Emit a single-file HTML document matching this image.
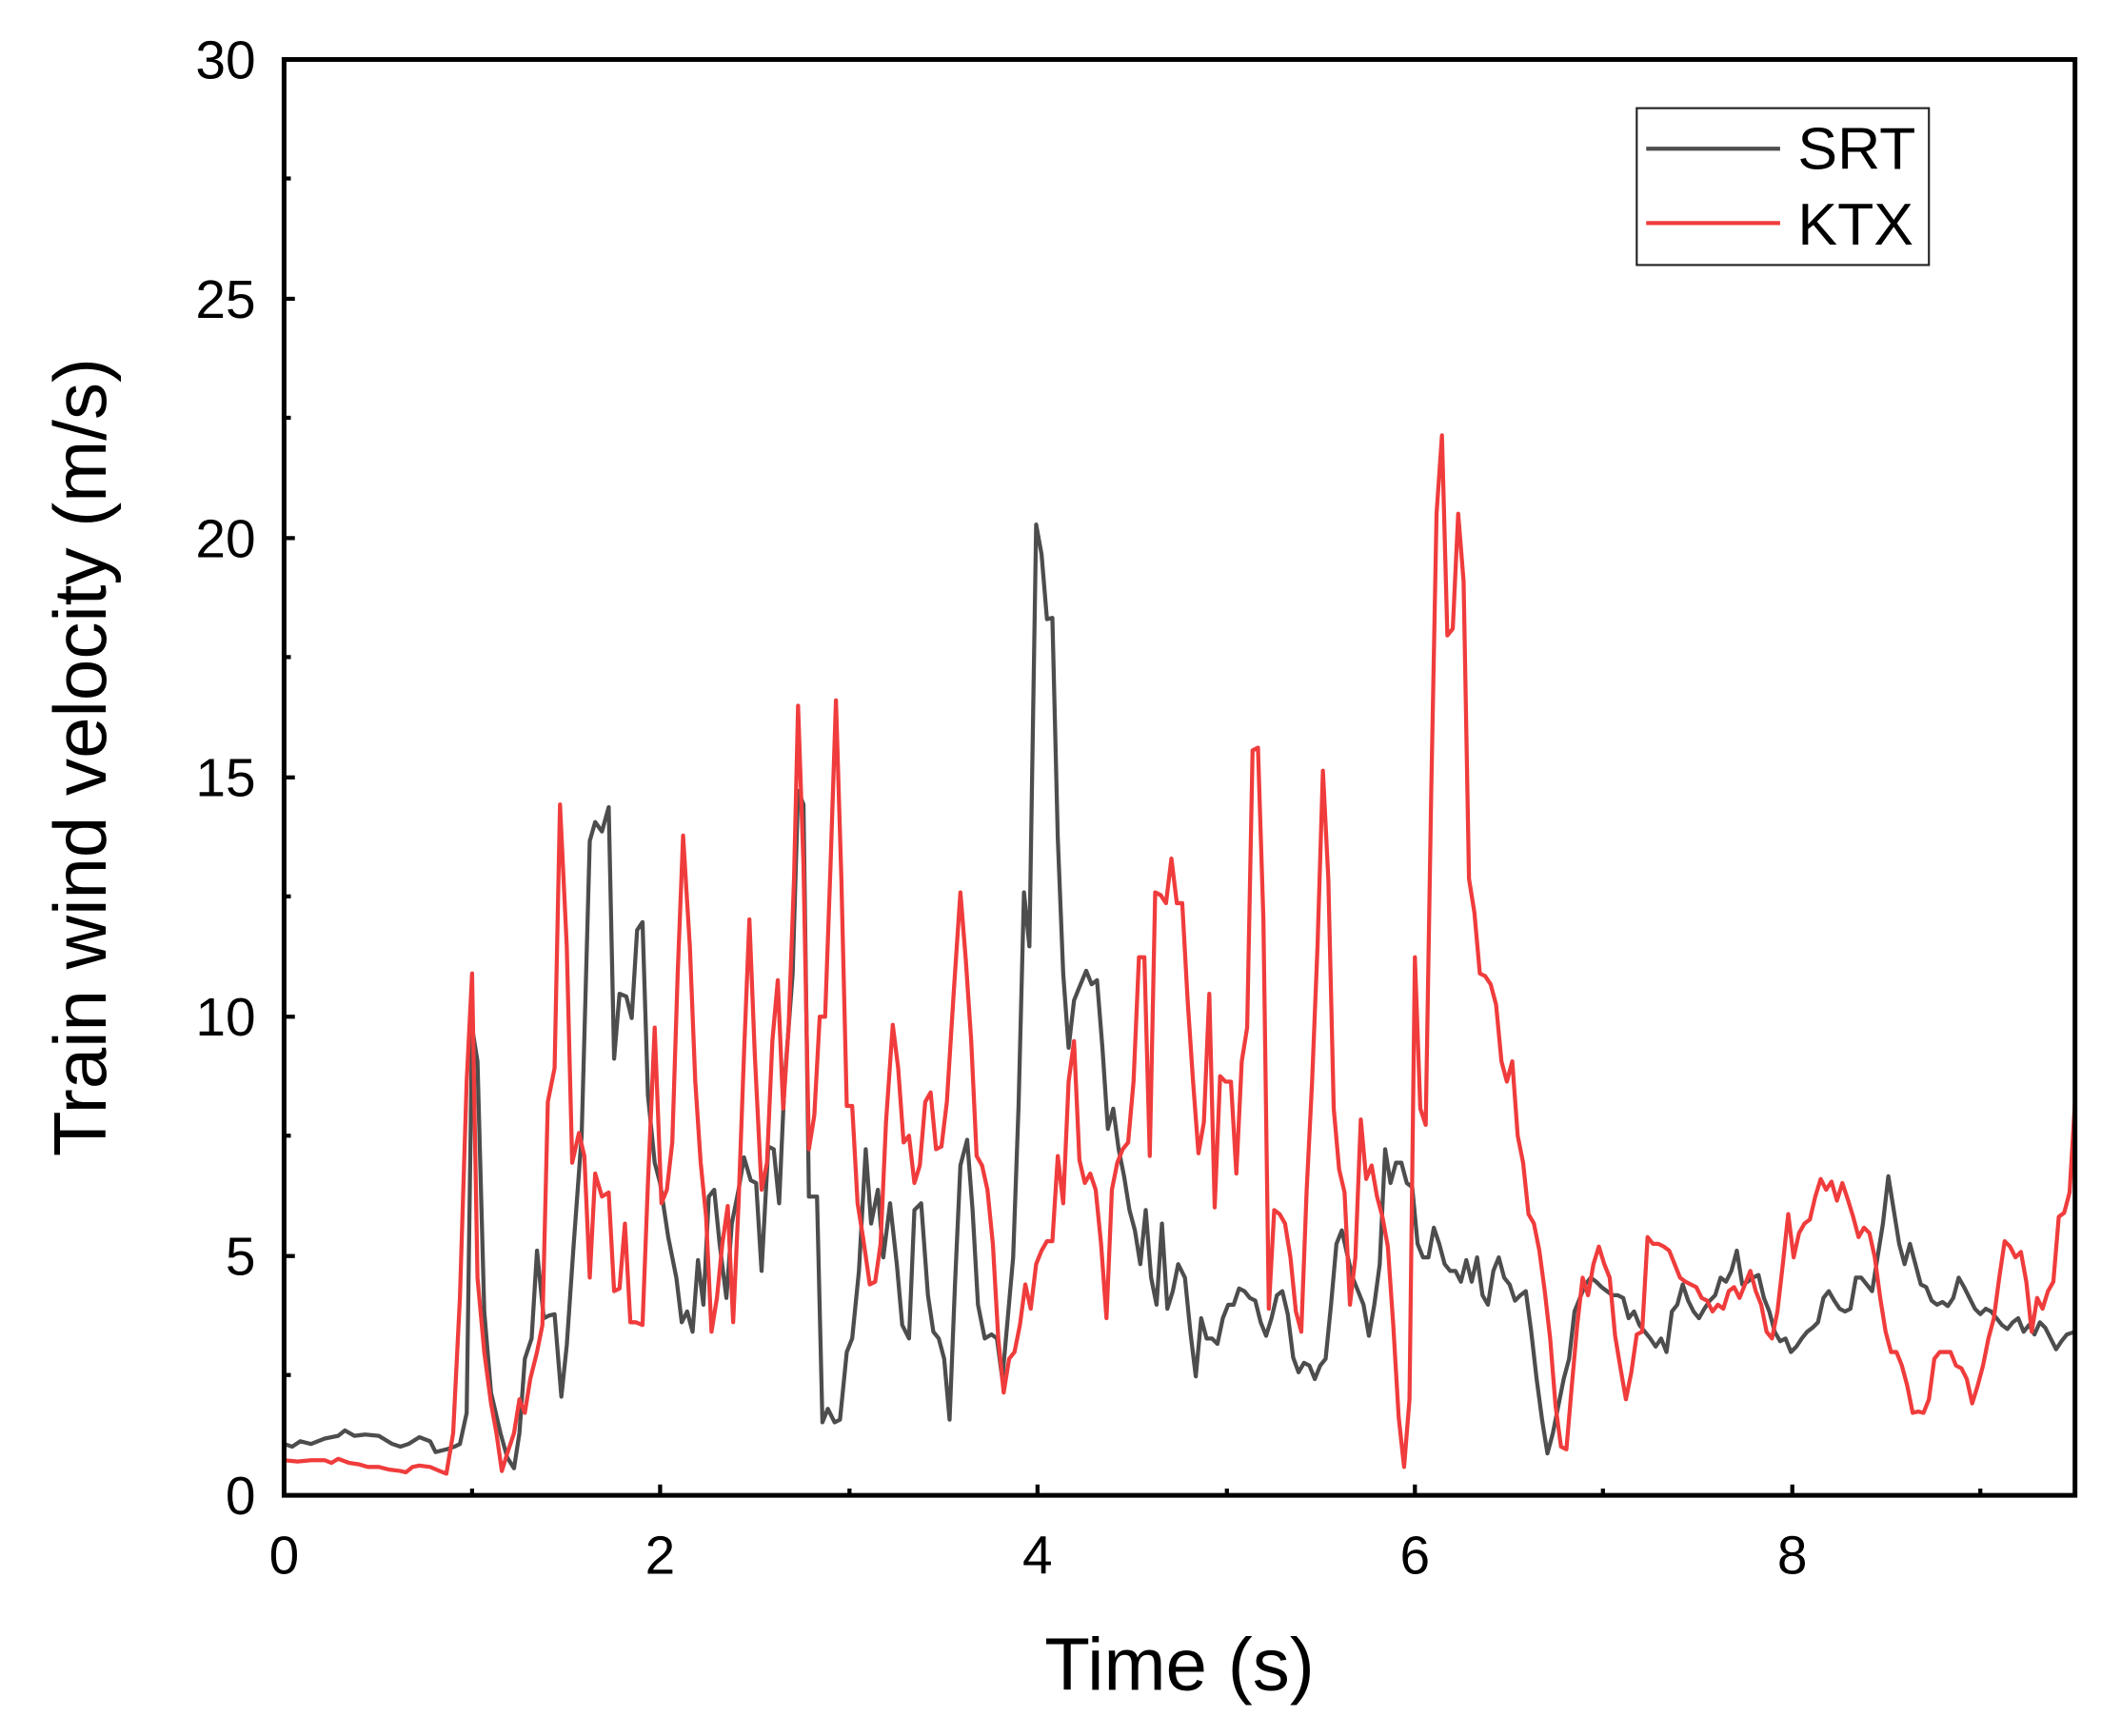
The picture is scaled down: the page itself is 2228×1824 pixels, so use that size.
<!DOCTYPE html>
<html><head><meta charset="utf-8"><style>html,body{margin:0;padding:0;background:#fff}svg{display:block}</style></head>
<body>
<svg width="2228" height="1824" viewBox="0 0 1568 1284" preserveAspectRatio="none" xmlns="http://www.w3.org/2000/svg" font-family="Liberation Sans, Arial, sans-serif">
<rect width="1568" height="1284" fill="#fff"/>
<g fill="none" stroke-linejoin="round" stroke-width="3">
<polyline stroke="#4d4d4d" points="210,1068 216,1070 222,1066 230,1068 240,1064 250,1062 255,1058 262,1062 270,1061 280,1062 290,1068 296,1070 302,1068 310,1063 318,1066 322,1074 330,1072 336,1070 340,1068 345,1045 349,760 353,785 358,970 363,1030 370,1060 375,1078 380,1086 384,1060 388,1005 393,990 397,925 402,975 406,973 410,972 415,1033 419,995 424,922 430,840 436,622 440,608 445,615 450,597 454,783 458,735 463,737 467,753 471,688 475,682 479,810 484,860 488,875 494,915 500,945 504,978 508,970 512,985 516,932 520,965 524,885 528,880 532,920 537,960 541,905 546,880 550,856 555,873 559,875 563,940 568,848 572,850 576,890 580,800 586,720 590,585 594,595 598,885 604,885 608,1052 612,1042 617,1052 621,1050 626,1000 630,990 635,940 640,850 644,905 649,880 653,930 658,890 663,935 667,980 672,990 676,895 681,890 686,958 690,985 694,990 698,1005 702,1050 706,950 710,862 715,843 719,895 723,965 728,990 733,987 737,990 741,1020 745,975 749,930 753,818 757,660 761,700 766,388 770,410 774,458 778,457 782,620 786,720 790,775 794,740 798,730 803,718 807,728 811,725 815,775 819,835 823,820 827,850 831,870 835,895 839,910 843,935 847,895 851,945 855,965 859,905 863,968 867,955 871,935 876,945 880,985 884,1018 888,975 892,990 896,990 900,994 904,975 908,965 912,965 916,953 920,955 924,960 928,962 932,978 936,988 940,975 944,958 948,955 952,972 956,1004 960,1015 964,1008 968,1010 972,1020 976,1010 980,1005 984,965 988,920 992,910 996,928 1000,945 1004,955 1008,965 1012,988 1016,965 1020,935 1024,850 1028,875 1032,860 1036,860 1040,875 1044,878 1048,920 1052,930 1056,930 1060,908 1064,920 1068,935 1072,940 1076,940 1080,948 1084,932 1088,948 1092,930 1096,958 1100,965 1104,940 1108,930 1112,945 1116,950 1120,962 1124,958 1128,955 1132,985 1136,1020 1140,1050 1144,1075 1148,1060 1152,1040 1156,1020 1160,1005 1164,970 1168,960 1172,950 1176,945 1180,948 1184,952 1188,955 1192,958 1196,958 1200,960 1204,975 1208,970 1212,980 1216,985 1220,990 1224,996 1228,990 1232,1000 1236,970 1240,965 1244,950 1248,962 1252,970 1256,975 1260,968 1264,962 1268,958 1272,945 1276,948 1280,940 1284,925 1288,950 1292,948 1296,945 1300,943 1304,960 1308,970 1312,985 1316,992 1320,990 1324,1000 1328,996 1332,990 1336,985 1340,982 1344,978 1348,960 1352,955 1356,962 1360,968 1364,970 1368,968 1372,945 1376,945 1380,950 1384,955 1388,930 1392,905 1396,870 1400,895 1404,920 1408,935 1412,920 1416,935 1420,950 1424,952 1428,962 1432,965 1436,963 1440,966 1444,960 1448,945 1452,952 1456,960 1460,968 1464,972 1468,968 1472,970 1476,975 1480,980 1484,983 1488,978 1492,975 1496,985 1500,980 1504,987 1508,978 1512,982 1516,990 1520,998 1524,992 1528,987 1534,985"/>
<polyline stroke="#f03c3c" points="210,1080 220,1081 230,1080 240,1080 245,1082 250,1079 258,1082 265,1083 272,1085 280,1085 288,1087 296,1088 300,1089 305,1085 310,1084 318,1085 325,1088 330,1090 335,1060 340,960 345,800 349,720 353,945 358,1000 363,1038 367,1060 371,1088 375,1075 380,1060 384,1035 388,1045 392,1020 397,1000 401,980 405,815 410,790 414,595 419,700 423,860 428,838 432,855 436,945 440,868 445,885 450,882 454,955 458,953 462,905 466,978 470,978 475,980 479,875 484,760 489,890 493,880 497,845 501,720 505,618 510,700 514,800 518,860 522,900 526,985 530,960 534,920 538,892 542,978 546,890 550,780 554,680 558,780 563,880 567,860 571,770 575,725 579,820 583,760 587,650 590,522 594,640 598,850 602,825 606,752 610,752 614,640 618,518 622,650 626,818 630,818 634,890 638,915 643,950 647,948 651,920 655,830 660,758 664,790 668,845 672,840 676,875 680,862 684,815 688,808 692,850 696,848 700,815 705,735 710,660 714,710 718,770 722,855 726,862 730,880 734,920 738,990 742,1030 746,1005 750,1000 754,980 758,950 762,968 766,935 770,925 774,918 778,918 782,855 786,890 790,800 794,770 798,858 802,875 806,868 810,880 814,920 818,975 822,880 826,860 830,850 834,845 838,800 842,708 846,708 850,855 854,660 858,662 862,668 866,635 870,668 874,668 878,740 882,800 886,853 890,830 894,735 898,893 902,796 906,800 910,800 914,868 918,785 922,760 926,555 930,553 934,680 938,968 942,895 946,898 950,905 954,930 958,970 962,985 966,880 970,800 974,700 978,570 982,650 986,820 990,865 994,882 998,965 1002,930 1006,828 1010,872 1014,862 1018,885 1022,900 1026,922 1030,980 1034,1048 1038,1085 1042,1035 1046,708 1050,820 1054,832 1058,590 1062,380 1066,322 1070,470 1074,465 1078,380 1082,430 1086,650 1090,675 1094,720 1098,722 1102,728 1106,743 1110,785 1114,800 1118,785 1122,840 1126,860 1130,898 1134,905 1138,925 1142,955 1146,990 1150,1040 1154,1070 1158,1072 1162,1025 1166,980 1170,945 1174,958 1178,935 1182,922 1186,935 1190,945 1194,988 1198,1012 1202,1035 1206,1015 1210,987 1214,985 1218,915 1222,920 1226,920 1230,922 1234,925 1238,935 1242,945 1246,948 1250,950 1254,952 1258,960 1262,962 1266,970 1270,965 1274,968 1278,955 1282,952 1286,960 1290,950 1294,940 1298,955 1302,965 1306,985 1310,990 1314,970 1318,935 1322,898 1326,930 1330,912 1334,905 1338,902 1342,885 1346,872 1350,880 1354,874 1358,888 1362,875 1366,887 1370,900 1374,915 1378,908 1382,912 1386,930 1390,960 1394,985 1398,1000 1402,1000 1406,1010 1410,1025 1414,1045 1418,1044 1422,1045 1426,1035 1430,1005 1434,1000 1438,1000 1442,1000 1446,1010 1450,1012 1454,1020 1458,1038 1462,1025 1466,1010 1470,990 1474,975 1478,945 1482,918 1486,922 1490,930 1494,926 1498,948 1502,985 1506,960 1510,968 1514,955 1518,948 1522,900 1526,897 1530,882 1534,815"/>
</g>
<rect x="210" y="44" width="1324" height="1062" fill="none" stroke="#000" stroke-width="3.5"/>
<g stroke="#000" stroke-width="3">
<line x1="210" y1="1106" x2="210" y2="1098"/><line x1="349" y1="1106" x2="349" y2="1101"/>
<line x1="488" y1="1106" x2="488" y2="1098"/><line x1="628" y1="1106" x2="628" y2="1101"/>
<line x1="767" y1="1106" x2="767" y2="1098"/><line x1="907" y1="1106" x2="907" y2="1101"/>
<line x1="1046" y1="1106" x2="1046" y2="1098"/><line x1="1185" y1="1106" x2="1185" y2="1101"/>
<line x1="1325" y1="1106" x2="1325" y2="1098"/><line x1="1464" y1="1106" x2="1464" y2="1101"/>
<line x1="210" y1="929" x2="218" y2="929"/><line x1="210" y1="752" x2="218" y2="752"/>
<line x1="210" y1="575" x2="218" y2="575"/><line x1="210" y1="398" x2="218" y2="398"/>
<line x1="210" y1="221" x2="218" y2="221"/>
<line x1="210" y1="1017" x2="215" y2="1017"/><line x1="210" y1="840" x2="215" y2="840"/>
<line x1="210" y1="663" x2="215" y2="663"/><line x1="210" y1="486" x2="215" y2="486"/>
<line x1="210" y1="309" x2="215" y2="309"/><line x1="210" y1="132" x2="215" y2="132"/>
</g>
<g font-size="40" fill="#000" text-anchor="middle">
<text x="210" y="1164">0</text><text x="488" y="1164">2</text><text x="767" y="1164">4</text><text x="1046" y="1164">6</text><text x="1325" y="1164">8</text>
</g>
<g font-size="40" fill="#000" text-anchor="end">
<text x="189" y="1120">0</text><text x="189" y="943">5</text><text x="189" y="766">10</text><text x="189" y="589">15</text><text x="189" y="412">20</text><text x="189" y="235">25</text><text x="189" y="58">30</text>
</g>
<text x="872" y="1250" font-size="55" text-anchor="middle">Time (s)</text>
<text transform="translate(78,560) rotate(-90)" font-size="55" text-anchor="middle">Train wind velocity (m/s)</text>
<rect x="1210" y="80" width="216" height="116" fill="#fff" stroke="#222" stroke-width="1.5"/>
<line x1="1217" y1="110" x2="1316" y2="110" stroke="#4d4d4d" stroke-width="3"/>
<line x1="1217" y1="165" x2="1316" y2="165" stroke="#f03c3c" stroke-width="3"/>
<text x="1329" y="125" font-size="44">SRT</text>
<text x="1329" y="181" font-size="44">KTX</text>
</svg>
</body></html>
